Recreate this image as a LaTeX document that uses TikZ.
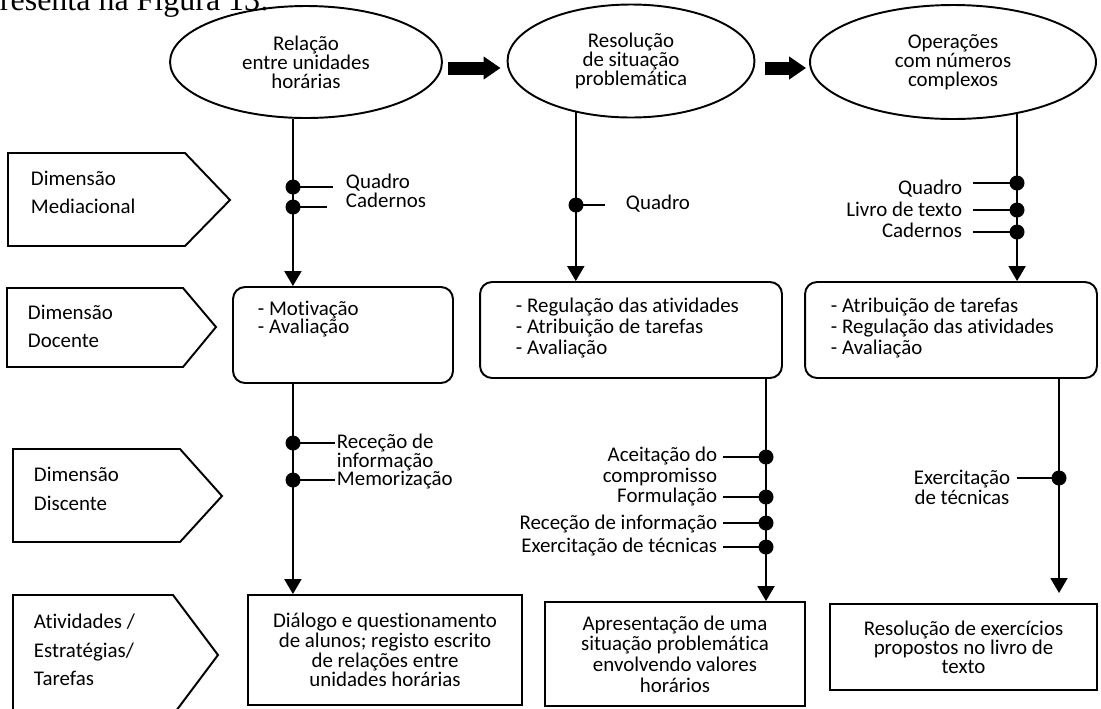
\documentclass[tikz,border=0pt]{standalone}
\usepackage{fontspec}
\setmainfont{Carlito}[Ligatures={NoCommon,NoContextual}]
\newfontfamily\pagina{Liberation Serif}
\usetikzlibrary{arrows.meta, shapes.geometric}

\begin{document}
\begin{tikzpicture}[x=0.02cm, y=-0.02cm, line width=1.1pt,
	font=\fontsize{11.9}{11.3}\selectfont,
	etapa/.style={shape=ellipse, draw, inner sep=0pt, align=center, font=\fontsize{11.9}{10.8}\selectfont},
	caixa/.style={shape=rectangle, draw, rounded corners=0.24cm, inner sep=0pt},
	tarefa/.style={shape=rectangle, draw, inner sep=0pt, align=center},
	fio/.style={-{Triangle[length=0.3cm, width=0.34cm]}},
	salto/.style={line width=0.26cm, -{Triangle[length=0.34cm, width=0.44cm]}},
	ponto/.style={shape=circle, fill, inner sep=0pt, minimum size=0.3cm},
	rotulo/.style={inner sep=0pt},
	dimensao/.style={inner sep=0pt, align=left, anchor=west, font=\fontsize{11.9}{16.2}\selectfont}]
	\useasboundingbox (0,0) rectangle (1101,708);
	% Paths, nodes and wires:
	\begin{scope}
		\clip (0,0) rectangle (1101,708);
		\node[anchor=base east, inner sep=0pt, font=\pagina\fontsize{18.2}{20}\selectfont] (intro) at (270,10) {apresenta na Figura 13:};
		\draw (13,595) -- (173,595) -- (218,655) -- (173,715) -- (13,715) -- cycle;
		\node[dimensao] (dim4) at (33,650) {Atividades /\\Estratégias/\\Tarefas};
	\end{scope}
	\draw (8,153) -- (185,153) -- (230,200) -- (185,246) -- (8,246) -- cycle;
	\node[dimensao] (dim1) at (30,192.5) {Dimensão\\Mediacional};
	\draw (7,288) -- (183,288) -- (216,327) -- (183,367) -- (7,367) -- cycle;
	\node[dimensao] (dim2) at (27,326.5) {Dimensão\\Docente};
	\draw (13,449) -- (180,449) -- (222,496) -- (180,542) -- (13,542) -- cycle;
	\node[dimensao] (dim3) at (33,489) {Dimensão\\Discente};

	\node[etapa, minimum width=5.44cm, minimum height=2.24cm] (e1) at (306,62) {Relação\\entre unidades\\horárias};
	\node[etapa, minimum width=4.94cm, minimum height=2.26cm] (e2) at (631,61) {Resolução\\de situação\\problemática};
	\node[etapa, minimum width=5.72cm, minimum height=2.28cm] (e3) at (953,62) {Operações\\com números\\complexos};
	\draw[salto] ([shift={(5,6)}]e1.east) -- ([shift={(-6,7)}]e2.west);
	\draw[salto] ([shift={(10,7)}]e2.east) -- ([shift={(-3,6)}]e3.west);

	\node[caixa, minimum width=4.4cm, minimum height=1.92cm] (d1) at (343,335) {};
	\node[caixa, minimum width=6.04cm, minimum height=1.92cm] (d2) at (631,330) {};
	\node[caixa, minimum width=5.84cm, minimum height=1.92cm] (d3) at (951,330) {};
	\node[rotulo, align=left, anchor=west, font=\fontsize{11.9}{10.4}\selectfont] (td1) at (257,319) {- Motivação\\- Avaliação};
	\node[rotulo, align=left, anchor=west, font=\fontsize{11.9}{11.9}\selectfont] (td2) at (515,328) {- Regulação das atividades\\- Atribuição de tarefas\\- Avaliação};
	\node[rotulo, align=left, anchor=west, font=\fontsize{11.9}{11.9}\selectfont] (td3) at (830,328) {- Atribuição de tarefas\\- Regulação das atividades\\- Avaliação};

	\node[tarefa, minimum width=5.48cm, minimum height=2.2cm] (a1) at (385,650) {Diálogo e questionamento\\de alunos; registo escrito\\de relações entre\\unidades horárias};
	\node[tarefa, minimum width=5.2cm, minimum height=2.08cm, font=\fontsize{11.9}{11.7}\selectfont] (a2) at (675,654) {Apresentação de uma\\situação problemática\\envolvendo valores\\horários};
	\node[tarefa, minimum width=5.34cm, minimum height=1.72cm, font=\fontsize{11.9}{10.8}\selectfont] (a3) at (963.5,647) {Resolução de exercícios\\propostos no livro de\\texto};

	\coordinate (k1) at (e1.-103);
	\coordinate (k2) at (e2.-137);
	\coordinate (k3) at (e3.-39);
	\coordinate (k2b) at (766,378);
	\coordinate (k3b) at (1059,378);
	\coordinate (t3) at (1059,593);
	\draw[fio] (k1) -- (k1 |- d1.north);
	\draw[fio] (k2) -- (k2 |- d2.north);
	\draw[fio] (k3) -- (k3 |- d3.north);
	\draw[fio] (k1 |- d1.south) -- (k1 |- a1.north);
	\draw[fio] (k2b |- d2.south) -- (k2b |- a2.north);
	\draw[fio] (k3b |- d3.south) -- (t3);

	% Mediacional
	\node[ponto] (p11) at (293,187) {};
	\node[ponto] (p12) at (293,207) {};
	\draw (p11.center) -- (333,187);
	\draw (p12.center) -- (327,207);
	\node[rotulo, align=left, anchor=west, font=\fontsize{11.9}{10.9}\selectfont] (m1) at (345,191) {Quadro\\Cadernos};
	\node[ponto] (p21) at (576,205) {};
	\draw (p21.center) -- (605,205);
	\node[rotulo, anchor=west] (m2) at (625,204) {Quadro};
	\node[ponto] (p31) at (1017,183) {};
	\node[ponto] (p32) at (1017,210) {};
	\node[ponto] (p33) at (1017,232) {};
	\draw (p31.center) -- (973,183);
	\draw (p32.center) -- (973,210);
	\draw (p33.center) -- (973,232);
	\node[rotulo, anchor=east] (m31) at (963,189) {Quadro};
	\node[rotulo, anchor=east] (m32) at (963,209) {Livro de texto};
	\node[rotulo, anchor=east] (m33) at (963,230) {Cadernos};

	% Discente
	\node[ponto] (q11) at (293,443) {};
	\node[ponto] (q12) at (293,480) {};
	\draw (q11.center) -- (335,443);
	\draw (q12.center) -- (335,480);
	\node[rotulo, align=left, anchor=west, font=\fontsize{11.9}{10.8}\selectfont] (n1) at (336,461.5) {Receção de\\informação\\Memorização};
	\node[ponto] (q21) at (766,457) {};
	\node[ponto] (q22) at (766,497) {};
	\node[ponto] (q23) at (766,523) {};
	\node[ponto] (q24) at (766,547) {};
	\draw (q21.center) -- (723,457);
	\draw (q22.center) -- (723,497);
	\draw (q23.center) -- (723,523);
	\draw (q24.center) -- (723,547);
	\node[rotulo, align=right, anchor=east, font=\fontsize{11.9}{11.9}\selectfont] (n21) at (718,466.5) {Aceitação do\\compromisso};
	\node[rotulo, anchor=east] (n22) at (718,497) {Formulação};
	\node[rotulo, anchor=east] (n23) at (718,524) {Receção de informação};
	\node[rotulo, anchor=east] (n24) at (718,547) {Exercitação de técnicas};
	\node[ponto] (q31) at (1059,478) {};
	\draw (q31.center) -- (1017,478);
	\node[rotulo, align=center, font=\fontsize{11.9}{11.3}\selectfont] (n3) at (962,487.5) {Exercitação\\de técnicas};
\end{tikzpicture}
\end{document}
